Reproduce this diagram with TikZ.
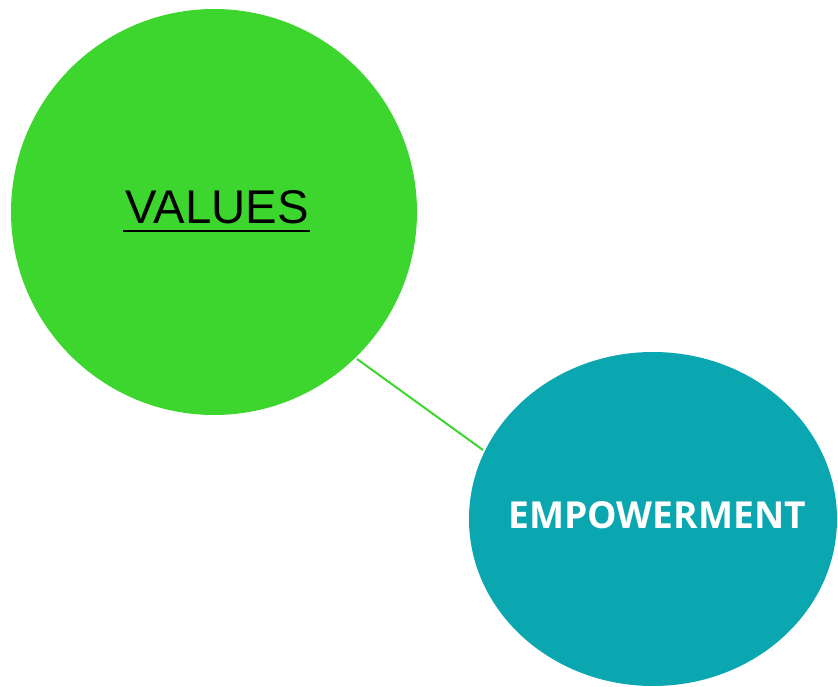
\documentclass[tikz,border=0pt]{standalone}
\usepackage{fontspec}
\setmainfont{Liberation Sans}
\newfontfamily\opensans{Open Sans}
\definecolor{valgreen}{HTML}{3DD62F}
\definecolor{empteal}{HTML}{0BA7B1}
\tikzset{
  bubble/.style={draw=none, inner sep=0pt},
  link/.style={draw=valgreen, line width=2pt}
}
\begin{document}
\begin{tikzpicture}[x=1pt,y=1pt]
\useasboundingbox (0,0) rectangle (838,-687);
\fill[valgreen] (214,-212) circle (203);
\node[bubble] (values) at (214,-212) {};
\fill[empteal] (653,-519) ellipse (184 and 167);
\node[bubble] (emp) at (653,-519) {};
\coordinate (a) at (357,-359);
\coordinate (b) at (483,-450);
\draw[link] (a) -- (b);
\node[inner sep=0pt, anchor=base] (vt) at (217,-224) {\fontsize{47.3}{52}\selectfont VALUES};
\draw[line width=2.6pt] ([xshift=-2pt,yshift=-7pt]vt.base west) -- ([xshift=1pt,yshift=-7pt]vt.base east);
\node[inner sep=0pt, anchor=base, text=white] (et) at (657,-528) {\opensans\bfseries\fontsize{37.2}{42}\selectfont EMPOWERMENT};
\end{tikzpicture}
\end{document}
